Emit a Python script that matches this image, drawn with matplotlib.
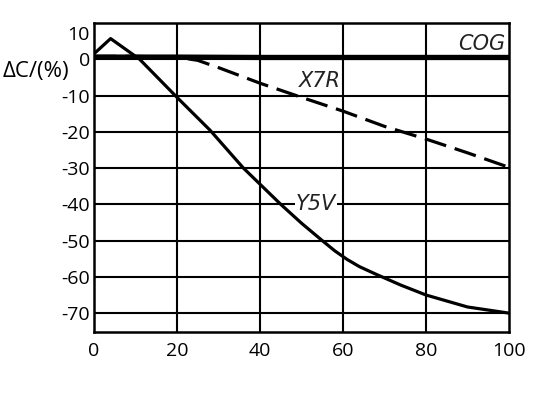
import matplotlib
matplotlib.use("Agg")
import matplotlib.pyplot as plt
import matplotlib.transforms as mtransforms

# Data
cog_x = [0, 20, 40, 60, 80, 100]
cog_y = [0.6, 0.6, 0.5, 0.5, 0.5, 0.5]

x7r_x = [0, 10, 20, 25, 30, 40, 50, 60, 70, 80, 90, 100]
x7r_y = [0.8, 0.8, 0.6, -0.3, -2.3, -6.6, -10.5, -14.3, -18.5, -22.0, -25.8, -29.8]

y5v_x = [0, 4, 11, 20, 28, 36, 45, 50, 55, 58, 61, 64, 68, 74, 80, 90, 100]
y5v_y = [1.5, 5.7, 0, -10.5, -19.6, -30, -40, -45.2, -50, -52.8, -55.2, -57.2, -59.3, -62.3, -65, -68.3, -70]

x_ticks = [0, 20, 40, 60, 80, 100]
y_ticks = [10, 0, -10, -20, -30, -40, -50, -60, -70]
y_grid = [0, -10, -20, -30, -40, -50, -60, -70]
x_grid = [20, 40, 60, 80]

plt.rcParams['font.family'] = ['Open Sans', 'DejaVu Sans']

fig = plt.figure(figsize=(5.39, 3.96), dpi=100)
ax = fig.add_axes([94 / 539, 1 - 332 / 396, (509 - 94) / 539, (332 - 23) / 396])

ax.set_xlim(0, 100)
ax.set_ylim(-75.2, 10)

for g in y_grid:
    ax.axhline(g, color='black', lw=1.5, zorder=1)
for g in x_grid:
    ax.axvline(g, color='black', lw=1.5, zorder=1)

ax.plot(cog_x, cog_y, color='black', lw=3.8, solid_capstyle='butt', zorder=4)
ax.plot(x7r_x, x7r_y, color='black', lw=2.3, dashes=(7, 2.8), zorder=4)
ax.plot(y5v_x, y5v_y, color='black', lw=2.3, zorder=4)

ax.text(99, 4.2, 'COG', ha='right', va='center', fontsize=15, style='italic',
        color='#222222', family=['DejaVu Sans'])
ax.text(54.5, -6.1, 'X7R', ha='center', va='center', fontsize=15, style='italic',
        color='#222222', family=['DejaVu Sans'])
ax.text(53.5, -40, 'Y5V', ha='center', va='center', fontsize=15, style='italic',
        color='#222222', family=['DejaVu Sans'],
        bbox=dict(facecolor='white', edgecolor='none', pad=0.5), zorder=3)

ax.set_xticks(x_ticks)
ax.set_yticks(y_ticks)
ax.set_xticklabels([str(v) for v in x_ticks])
ax.set_yticklabels([str(v) for v in y_ticks])
ax.tick_params(axis='both', length=0, labelsize=14, colors='black')
ax.tick_params(axis='x', pad=7)
ax.tick_params(axis='y', pad=3)

# Shift the "10" label slightly down like in the reference
lbl = ax.get_yticklabels()[0]
lbl.set_transform(lbl.get_transform() + mtransforms.ScaledTranslation(0, -7 / 72, fig.dpi_scale_trans))

for s in ax.spines.values():
    s.set_linewidth(1.8)
    s.set_color('black')

fig.text(3 / 539, 1 - 72 / 396, 'ΔC/(%)', ha='left', va='center', fontsize=16)

fig.savefig('out.png', dpi=100)
